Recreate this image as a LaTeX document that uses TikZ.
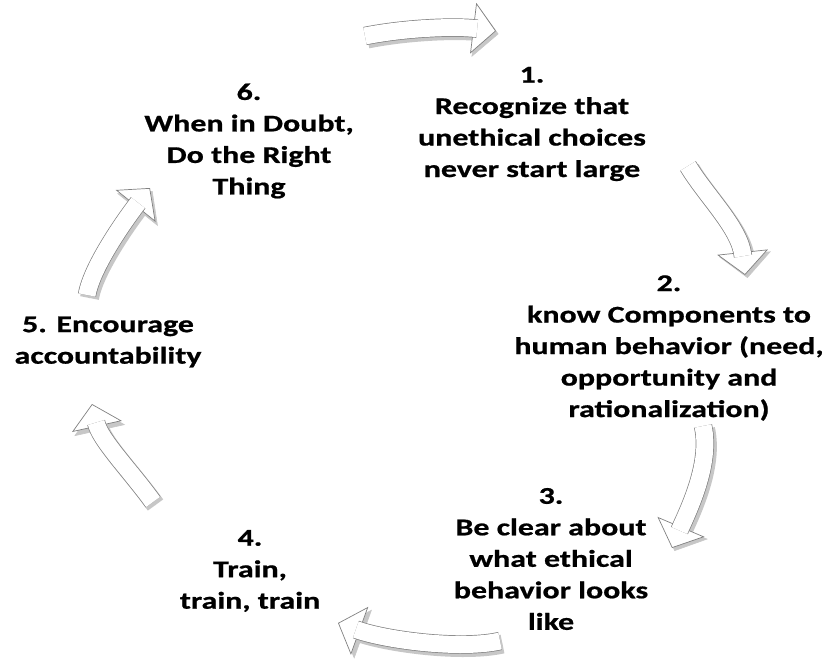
\documentclass[tikz,border=0pt]{standalone}
\usepackage{fontspec}
\setmainfont{Carlito}[FakeStretch=1.33, BoldFeatures={FakeBold=0.8}]
\usetikzlibrary{arrows.meta}

\tikzset{
  steptext/.style={font=\fontsize{24}{31.5}\selectfont\bfseries, align=center, inner sep=0pt},
  arrowshadow/.style={black!22, line width=19pt, shorten >=19pt},
  arrowshadowtip/.style={black!22, line width=0.6pt, -{Triangle[width=52pt,length=24pt,fill=black!22]}},
  arrowtip/.style={draw=black!50, line width=0.7pt, -{Triangle[width=51pt,length=23pt,fill=white]}},
  arrowbody/.style={draw=black!50, line width=0.7pt, double=white, double distance=17pt, shorten >=19pt}
}

% block arrow: tail, control, control, tip
\newcommand\cyclearrow[4]{%
  \begin{scope}[transform canvas={shift={(2.5pt,-3pt)}}]
    \draw[arrowshadowtip] (#1) .. controls (#2) and (#3) .. (#4);
    \draw[arrowshadow] (#1) .. controls (#2) and (#3) .. (#4);
  \end{scope}
  \draw[arrowtip] (#1) .. controls (#2) and (#3) .. (#4);
  \draw[arrowbody] (#1) .. controls (#2) and (#3) .. (#4);
}

\begin{document}
\begin{tikzpicture}[x=1pt, y=-1pt]
  \useasboundingbox (0,0) rectangle (829,661);

  \node[steptext] (s1) at (532,124) {1.\\Recognize that\\unethical choices\\never start large};
  \node[steptext] (s2) at (669,348) {2.\\know Components to\\human behavior (need,\\opportunity and\\rationalization)};
  \node[steptext] (s3) at (551,559) {3.\\Be clear about\\what ethical\\behavior looks\\like};
  \node[steptext] (s4) at (250,571) {4.\\Train,\\train, train};
  \node[steptext] (s5) at (108,342) {5. Encourage\\accountability};
  \node[steptext] (s6) at (249,141) {6.\\When in Doubt,\\Do the Right\\Thing};

  \coordinate (ar1-tail) at (365,36);  \coordinate (ar1-c1) at (405,28);
  \coordinate (ar1-c2)   at (455,26);  \coordinate (ar1-tip) at (496,31);
  \coordinate (ar2-tail) at (688,166); \coordinate (ar2-c1) at (706,196);
  \coordinate (ar2-c2)   at (740,228); \coordinate (ar2-tip) at (745,275);
  \coordinate (ar3-tail) at (703,426); \coordinate (ar3-c1) at (712,465);
  \coordinate (ar3-c2)   at (686,515); \coordinate (ar3-tip) at (672,548);
  \coordinate (ar4-tail) at (500,641); \coordinate (ar4-c1) at (460,650);
  \coordinate (ar4-c2)   at (385,640); \coordinate (ar4-tip) at (338,623);
  \coordinate (ar5-tail) at (153,502); \coordinate (ar5-c1) at (130,470);
  \coordinate (ar5-c2)   at (100,440); \coordinate (ar5-tip) at (92,404);
  \coordinate (ar6-tail) at (87,295);  \coordinate (ar6-c1) at (92,265);
  \coordinate (ar6-c2)   at (130,213); \coordinate (ar6-tip) at (150,188);

  \cyclearrow{ar1-tail}{ar1-c1}{ar1-c2}{ar1-tip}
  \cyclearrow{ar2-tail}{ar2-c1}{ar2-c2}{ar2-tip}
  \cyclearrow{ar3-tail}{ar3-c1}{ar3-c2}{ar3-tip}
  \cyclearrow{ar4-tail}{ar4-c1}{ar4-c2}{ar4-tip}
  \cyclearrow{ar5-tail}{ar5-c1}{ar5-c2}{ar5-tip}
  \cyclearrow{ar6-tail}{ar6-c1}{ar6-c2}{ar6-tip}
\end{tikzpicture}
\end{document}
